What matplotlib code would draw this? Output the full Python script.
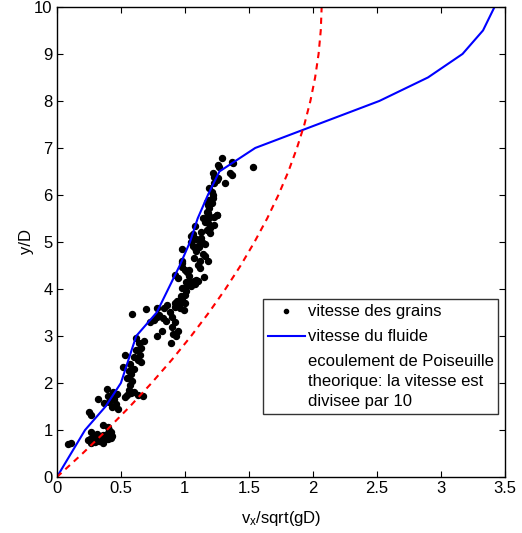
import matplotlib
matplotlib.use("Agg")
import matplotlib.pyplot as plt
from matplotlib.lines import Line2D

plt.rcParams['font.family'] = ['Liberation Sans', 'DejaVu Sans']
plt.rcParams['mathtext.default'] = 'regular'

# grain velocities (x = vx/sqrt(gD), y = y/D)
grains_x = [0.09, 0.11, 0.26, 0.27, 0.28, 0.29, 0.30, 0.30, 0.31, 0.32, 0.33, 0.34, 0.35, 0.36,
            0.36, 0.37, 0.38, 0.39, 0.40, 0.41, 0.42, 0.42, 0.43, 0.36, 0.40, 0.27, 0.24,
            0.25, 0.27, 0.32, 0.39, 0.40, 0.41, 0.43, 0.45, 0.46, 0.47, 0.48, 0.44, 0.37, 0.53,
            0.56, 0.57, 0.58, 0.55, 0.63, 0.67, 0.60,
            0.52, 0.53, 0.55, 0.56, 0.57, 0.58, 0.59, 0.60, 0.62, 0.63, 0.64, 0.65, 0.66, 0.62,
            0.66, 0.60, 0.68,
            0.59, 0.70, 0.73, 0.76, 0.78, 0.80, 0.83, 0.85, 0.82, 0.78, 0.88, 0.90, 0.92, 0.90,
            0.91, 0.93, 0.89, 0.95, 0.96, 0.98, 0.97, 1.00, 0.99, 0.86, 0.92,
            0.78, 0.84, 0.92, 0.96, 0.98, 0.94, 1.00, 1.01,
            0.98, 1.02, 1.03, 1.01, 1.04, 1.07, 1.09, 1.10, 1.08, 1.05, 0.95, 0.92,
            0.98, 1.00, 1.02, 1.03, 0.98, 0.98, 1.12, 1.18, 1.16, 1.14, 0.98,
            1.05, 1.06, 1.08, 1.09, 1.10, 1.13, 1.14, 1.16, 1.13, 1.09, 1.05, 1.06,
            1.17, 1.20, 1.20, 1.18, 1.16, 1.17, 1.20, 1.18, 1.25, 1.23,
            1.29, 1.27, 1.26, 1.37, 1.38, 1.35, 1.37, 1.31, 1.53,
            1.22, 1.23, 1.25, 1.23, 1.26,
            1.19, 1.21, 1.22, 1.22, 1.19, 1.17, 1.21, 1.18, 1.19, 1.17, 1.14, 1.17, 1.25, 1.23,
            1.12, 1.15, 1.07, 1.10, 1.03, 1.11, 1.13, 1.08]
grains_y = [0.70, 0.72, 0.80, 0.73, 0.88, 0.78, 0.85, 0.74, 0.92, 0.80, 0.76, 0.88, 0.82, 0.73,
            0.90, 0.79, 0.85, 0.92, 0.80, 1.00, 0.95, 0.82, 0.87, 1.10, 1.07, 0.95, 0.78,
            1.38, 1.31, 1.66, 1.87, 1.72, 1.60, 1.50, 1.65, 1.55, 1.76, 1.45, 1.80, 1.58, 1.70,
            1.85, 1.95, 1.78, 1.74, 1.75, 1.72, 1.80,
            2.35, 2.60, 2.10, 2.25, 2.40, 2.20, 2.05, 2.30, 2.70, 2.50, 2.85, 2.60, 2.45, 2.95,
            2.75, 2.55, 2.90,
            3.47, 3.57, 3.30, 3.35, 3.40, 3.45, 3.38, 3.32, 3.10, 3.00, 3.50, 3.40, 3.30, 3.20,
            3.05, 3.00, 2.85, 3.10, 3.60, 3.75, 3.85, 3.70, 3.55, 3.65, 3.70,
            3.60, 3.60, 3.62, 3.70, 3.80, 3.75, 3.88, 3.95,
            4.02, 4.08, 4.13, 4.15, 4.15, 4.18, 4.20, 4.18, 4.10, 4.06, 4.23, 4.30,
            4.47, 4.40, 4.36, 4.40, 4.55, 4.60, 4.60, 4.60, 4.70, 4.75, 4.85,
            5.00, 4.92, 4.87, 4.80, 4.92, 5.02, 4.98, 4.96, 5.08, 5.06, 5.12, 5.16,
            5.25, 5.20, 5.30, 5.40, 5.42, 5.50, 5.53, 5.62, 5.58, 5.36,
            6.79, 6.60, 6.64, 6.70, 6.68, 6.47, 6.43, 6.26, 6.60,
            6.47, 6.38, 6.32, 6.26, 6.36,
            6.15, 6.06, 6.00, 5.94, 5.90, 5.85, 5.83, 5.79, 5.72, 5.64, 5.51, 5.51, 5.57, 5.53,
            4.45, 4.25, 4.65, 4.52, 4.28, 4.90, 5.22, 5.35]

# fluid velocity profile
fluide_x = [0.0, 0.22, 0.38, 0.50, 0.56, 0.62, 0.78, 0.87, 0.96, 1.04, 1.10, 1.18, 1.27,
            1.55, 2.52, 2.90, 3.17, 3.33, 3.42]
fluide_y = [0.0, 1.0, 1.5, 2.0, 2.5, 3.0, 3.5, 4.0, 4.5, 5.0, 5.5, 6.0, 6.5,
            7.0, 8.0, 8.5, 9.0, 9.5, 10.0]

# theoretical Poiseuille profile (velocity / 10)
pois_x = [0.0, 0.200, 0.390, 0.570, 0.740, 0.900, 1.049, 1.188, 1.317, 1.436, 1.544,
          1.643, 1.731, 1.809, 1.876, 1.934, 1.981, 2.018, 2.045, 2.062, 2.069]
pois_y = [0.0, 0.5, 1.0, 1.5, 2.0, 2.5, 3.0, 3.5, 4.0, 4.5, 5.0,
          5.5, 6.0, 6.5, 7.0, 7.5, 8.0, 8.5, 9.0, 9.5, 10.0]

fig = plt.figure(figsize=(5.22, 5.33), dpi=100)
ax = fig.add_axes([0.109, 0.105, 0.858, 0.882])

h1, = ax.plot(grains_x, grains_y, 'o', color='black', markersize=4.3, linestyle='none')
h2, = ax.plot(fluide_x, fluide_y, '-', color='blue', linewidth=1.5)
ax.plot(pois_x, pois_y, '--', color='red', linewidth=1.5, dashes=(3, 2.5))

ax.set_xlim(0, 3.5)
ax.set_ylim(0, 10)
ax.set_xticks([0, 0.5, 1, 1.5, 2, 2.5, 3, 3.5])
ax.set_xticklabels(['0', '0.5', '1', '1.5', '2', '2.5', '3', '3.5'])
ax.set_yticks(range(0, 11))
ax.tick_params(direction='in', top=True, right=True, length=4, labelsize=12, pad=3)
for s in ax.spines.values():
    s.set_linewidth(1.0)

ax.set_xlabel(r'v$_{x}$/sqrt(gD)', fontsize=12, labelpad=9)
ax.set_ylabel('y/D', fontsize=12, labelpad=0)

h3 = Line2D([], [], linestyle='none')
leg = ax.legend([h1, h2, h3],
                ['vitesse des grains', 'vitesse du fluide',
                 'ecoulement de Poiseuille\ntheorique: la vitesse est\ndivisee par 10'],
                loc='lower left', bbox_to_anchor=(0.46, 0.134, 0.524, 0.249), mode='expand',
                fontsize=12, frameon=True, fancybox=False, edgecolor='black',
                handlelength=2.2, handletextpad=0.2, borderaxespad=0, borderpad=0.3,
                labelspacing=0.6, markerscale=0.7)
leg.get_frame().set_linewidth(1.0)
for t in leg.get_texts():
    t.set_linespacing(1.4)

fig.savefig('out.png', dpi=100)
